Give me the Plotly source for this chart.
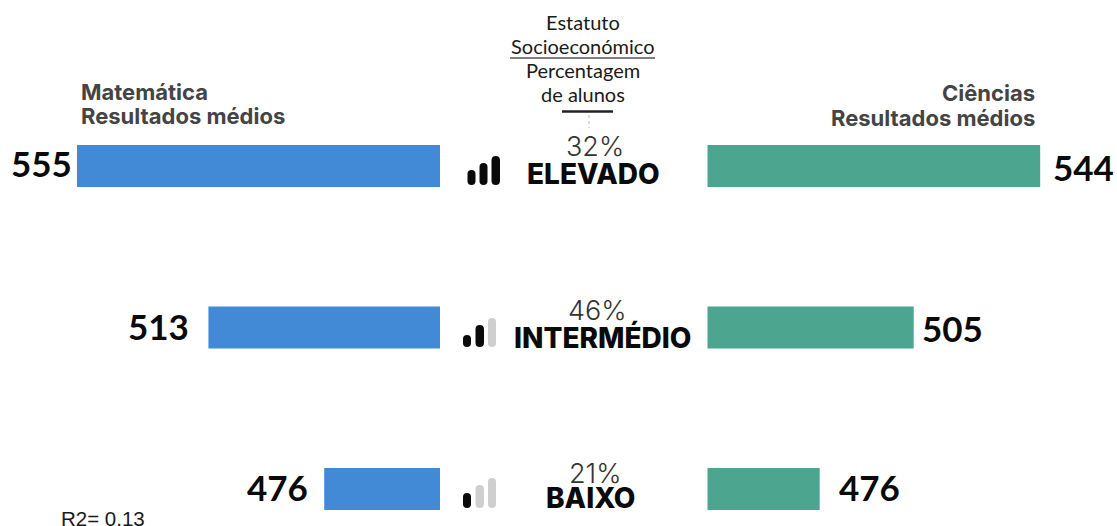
import plotly.graph_objects as go

levels = ["ELEVADO", "INTERMÉDIO", "BAIXO"]
shares = ["32%", "46%", "21%"]
matematica = [555, 513, 476]
ciencias = [544, 505, 476]
filled_steps = [3, 2, 1]

W, H = 1117, 526
BLUE, GREEN = "#4289D6", "#4CA58F"
DARK, GREY = "#0A0A0A", "#CFCFCF"
HEAD = "Inter"


def px(x):
    return x / W


def py(y):
    return 1 - y / H


fig = go.Figure()
fig.add_bar(y=levels, x=matematica, orientation="h", marker_color=BLUE,
            marker_line_width=0, width=0.26, xaxis="x", yaxis="y", showlegend=False)
fig.add_bar(y=levels, x=ciencias, orientation="h", marker_color=GREEN,
            marker_line_width=0, width=0.26, xaxis="x2", yaxis="y", showlegend=False)


def note(x, y, text, size, family, color="#111", weight="normal", anchor="center", **kw):
    fig.add_annotation(xref="paper", yref="paper", x=px(x), y=py(y), text=text,
                       showarrow=False, xanchor=anchor, yanchor="middle",
                       font=dict(size=size, family=family, color=color, weight=weight),
                       **kw)


# column headings
note(79, 92, "Matemática", 22, HEAD, "#444", 700, "left")
note(79, 116, "Resultados médios", 22, HEAD, "#444", 700, "left")
note(1037, 93, "Ciências", 22, HEAD, "#444", 700, "right")
note(1037, 118, "Resultados médios", 22, HEAD, "#444", 700, "right")
for y, t in zip([22, 46, 70, 94], ["Estatuto", "Socioeconómico", "Percentagem", "de alunos"]):
    note(582.5, y, t, 20, "Lato", "#1a1a1a")

# value labels
for y, xr, v in zip([163, 326, 487], [74, 191, 310], matematica):
    note(xr, y, str(v), 35, "Lato", "#0a0a0a", 700, "right")
for y, xl, v in zip([167, 328, 487], [1051, 920, 837], ciencias):
    note(xl, y, str(v), 35, "Lato", "#0a0a0a", 700, "left")

# centre labels
for x, y1, s in zip([595, 597, 595], [146, 310, 473], shares):
    note(x, y1, s, 27, "Inter", "#333", 300)
for x, y2, lab in zip([593.5, 602.5, 590], [174, 337, 498], levels):
    note(x, y2, lab, 28, HEAD, DARK, 800)

note(58.5, 518.5, "R2= 0,13", 20.5, "Liberation Sans", "#1a1a1a", "normal", "left")
# white strip that trims the top of the R2 note, as in the source image
fig.add_annotation(xref="paper", yref="paper", x=px(50), y=py(511.5), xanchor="left", yanchor="bottom",
                   text=" ", showarrow=False, bgcolor="white", width=110, height=14,
                   font=dict(size=8), borderpad=0)


def pill(x0, x1, y0, y1, color):
    r = (x1 - x0) / 2
    X0, X1 = px(x0), px(x1)
    Xm = px((x0 + x1) / 2)
    T, B = py(y0), py(y1)
    Tr, Br = py(y0 + r), py(y1 - r)
    path = (f"M {X0} {Br} L {X0} {Tr} Q {X0} {T} {Xm} {T} Q {X1} {T} {X1} {Tr} "
            f"L {X1} {Br} Q {X1} {B} {Xm} {B} Q {X0} {B} {X0} {Br} Z")
    fig.add_shape(type="path", path=path, xref="paper", yref="paper",
                  fillcolor=color, line_width=0)


icon_x = [[(467.5, 475.5), (479.5, 487.5), (491.5, 500)],
          [(463, 471), (475.5, 484), (488, 496)],
          [(463, 471), (475.5, 484), (488, 496)]]
icon_top = [[170, 163, 156], [335, 325, 318], [493, 485, 478]]
icon_bottom = [185, 347, 508]
for xs, tops, b, n in zip(icon_x, icon_top, icon_bottom, filled_steps):
    for i, ((a, c), t) in enumerate(zip(xs, tops)):
        pill(a, c, t, b, DARK if i < n else GREY)

# rules
fig.add_shape(type="line", xref="paper", yref="paper", x0=px(510), x1=px(655), y0=py(58), y1=py(58),
              line=dict(color="#555", width=1.3))
fig.add_shape(type="line", xref="paper", yref="paper", x0=px(562), x1=px(613), y0=py(111.5), y1=py(111.5),
              line=dict(color="#222", width=2.5))
fig.add_shape(type="line", xref="paper", yref="paper", x0=px(589), x1=px(589), y0=py(115), y1=py(128),
              line=dict(color="#bbb", width=1, dash="dot"))

fig.update_layout(
    width=W, height=H, margin=dict(l=0, r=0, t=0, b=0),
    plot_bgcolor="white", paper_bgcolor="white", barmode="overlay",
    xaxis=dict(domain=[0, 440 / W], range=[579.6, 439], visible=False, fixedrange=True),
    xaxis2=dict(domain=[707.5 / W, 1], range=[441.4, 567.7], visible=False, fixedrange=True,
                anchor="y"),
    yaxis=dict(domain=[0, 1], range=[2.229, -1.0279], visible=False, type="category",
               categoryorder="array", categoryarray=levels, fixedrange=True),
)
fig.write_html("out.html", config=dict(displayModeBar=False),
               post_script="document.documentElement.style.margin='0';document.body.style.margin='0';document.body.style.overflow='hidden';")
